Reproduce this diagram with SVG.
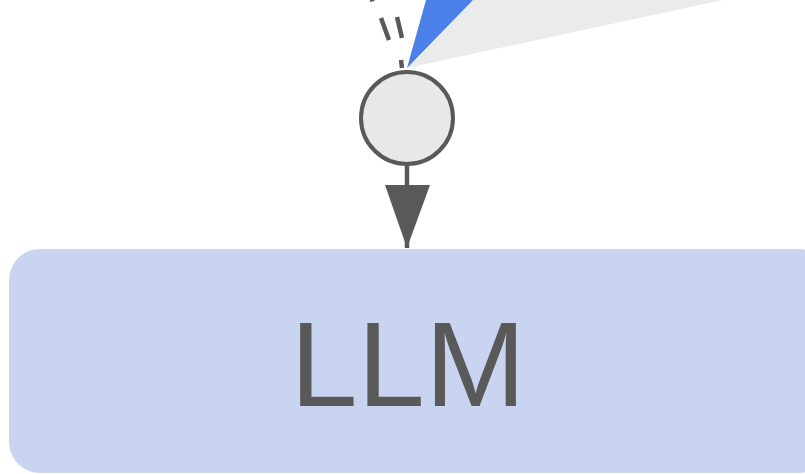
<svg xmlns="http://www.w3.org/2000/svg" width="805" height="474" viewBox="0 0 805 474">
  <style>
    .ln { stroke: #595959; stroke-width: 4.5; fill: none; }
    .lbl { font-family: "Liberation Sans", Arial, sans-serif; fill: #595959; }
  </style>
  <defs>
    <marker id="arr" markerUnits="userSpaceOnUse" markerWidth="64" markerHeight="46" refX="63" refY="23" orient="auto" viewBox="0 0 64 46">
      <path d="M0,0 L63,23 L0,45 Z" fill="#595959"/>
    </marker>
  </defs>
  <rect width="805" height="474" fill="#ffffff"/>
  <g id="beams">
    <polygon points="407,68 473,0 723,0" fill="#ebebeb"/>
    <polygon points="407,68 426,0 473,0" fill="#4a80e8"/>
  </g>
  <g id="connectors">
    <line class="ln" x1="381" y1="18" x2="389" y2="40"/>
    <line class="ln" x1="397" y1="17" x2="402" y2="38"/>
    <line class="ln" x1="401" y1="60" x2="402" y2="68"/>
    <line class="ln" x1="371.5" y1="-2" x2="372.5" y2="1.5"/>
    <line class="ln" x1="407" y1="166" x2="407" y2="248" marker-end="url(#arr)"/>
  </g>
  <g id="junction">
    <circle cx="407" cy="118" r="46" fill="#e8e8e8" stroke="#595959" stroke-width="4"/>
  </g>
  <g id="llm">
    <rect x="9" y="249" width="820" height="224" rx="31" ry="31" fill="#c9d5f0"/>
    <text class="lbl" x="408" y="406" font-size="121" text-anchor="middle">LLM</text>
  </g>
</svg>
